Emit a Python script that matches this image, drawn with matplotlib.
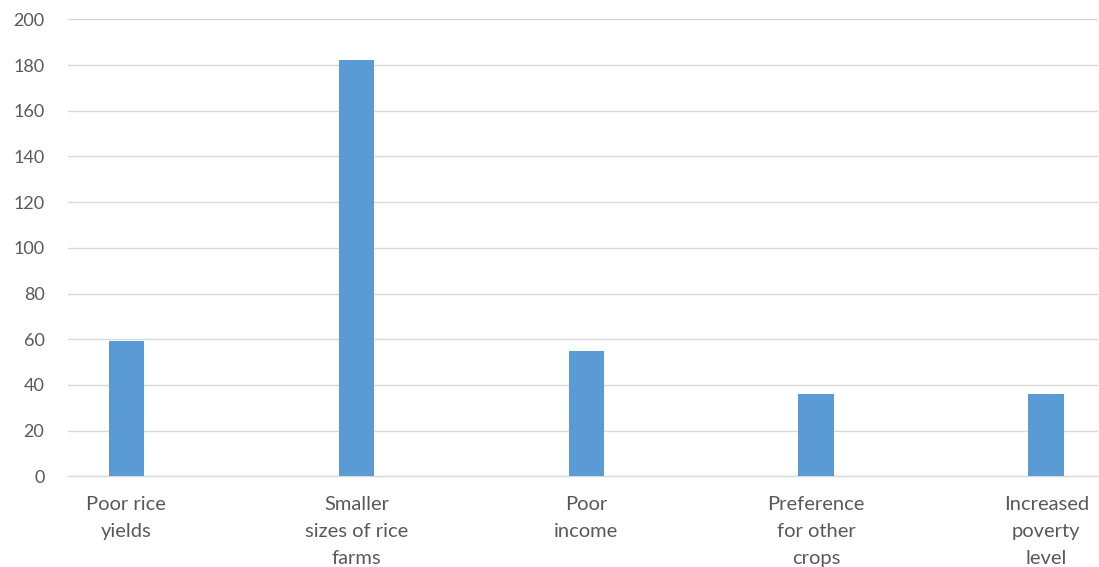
import matplotlib.pyplot as plt

# data
categories = ['Poor rice\nyields', 'Smaller\nsizes of rice\nfarms', 'Poor\nincome',
              'Preference\nfor other\ncrops', 'Increased\npoverty\nlevel']
values = [59, 182, 55, 36, 36]
yticks = [0, 20, 40, 60, 80, 100, 120, 140, 160, 180, 200]

plt.rcParams['font.family'] = ['Lato', 'DejaVu Sans']

fig = plt.figure(figsize=(10.99, 5.67), dpi=100)
ax = fig.add_axes([68/1099, (567-476.3)/567, (1098-68)/1099, 457/567])

x = list(range(len(categories)))
ax.bar(x, values, width=0.155, color='#5B9BD5', zorder=3)

ax.set_ylim(0, 200)
ax.set_xlim(-0.254, 4.225)
ax.set_yticks(yticks)
ax.set_xticks(x)
ax.set_xticklabels(categories, linespacing=1.72, fontsize=14.5)
ax.grid(axis='y', color='#D9D9D9', linewidth=1.0, zorder=0)

for s in ['top', 'right', 'left']:
    ax.spines[s].set_visible(False)
ax.spines['bottom'].set_color('#D9D9D9')
ax.spines['bottom'].set_linewidth(1.0)

ax.tick_params(axis='both', length=0, labelcolor='#595959')
ax.tick_params(axis='y', pad=17, labelsize=13)
ax.tick_params(axis='x', pad=14)

plt.savefig('out.png', dpi=100)
